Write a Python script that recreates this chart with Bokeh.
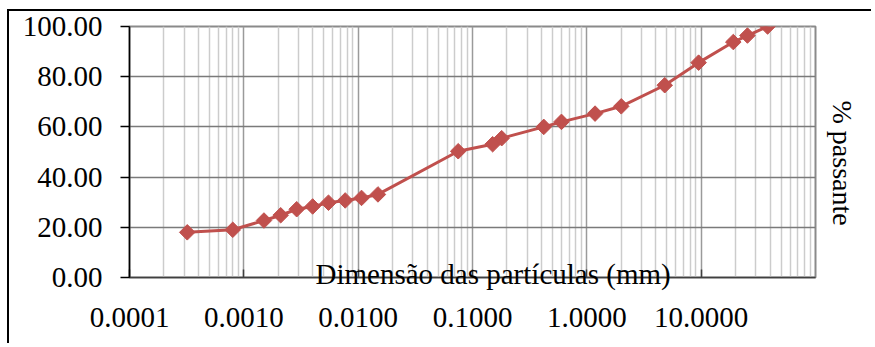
import math
from bokeh.plotting import figure
from bokeh.models import Range1d, FixedTicker, Title, ColumnDataSource
from bokeh.embed import file_html
from bokeh.resources import INLINE

# ---- data ----
particle_size_mm = [0.00032, 0.0008, 0.0015, 0.0021, 0.0029, 0.0040, 0.0055,
                    0.0077, 0.0107, 0.0149, 0.075, 0.15, 0.18, 0.42, 0.60,
                    1.18, 2.0, 4.8, 9.5, 19.1, 25.4, 38.1]
percent_passing = [18.0, 19.0, 22.7, 24.8, 27.2, 28.3, 29.8, 30.7, 31.7, 33.1,
                   50.3, 53.1, 55.5, 60.0, 62.0, 65.3, 68.2, 76.6, 85.6, 93.8,
                   96.4, 100.0]

x_ticks = [0.0001, 0.001, 0.01, 0.1, 1.0, 10.0]
x_tick_labels = ["0.0001", "0.0010", "0.0100", "0.1000", "1.0000", "10.0000"]
x_minor = [m * d for d in [0.0001, 0.001, 0.01, 0.1, 1.0, 10.0] for m in range(2, 10)]
y_ticks = [0, 20, 40, 60, 80, 100]
y_tick_labels = ["0.00", "20.00", "40.00", "60.00", "80.00", "100.00"]

x_title = "Dimensão das partículas (mm)"
y_title = "% passante"

RED = "#C0504D"
FONT = "Liberation Serif"

p = figure(width=864, height=334, x_axis_type="log",
           x_range=Range1d(0.0001, 100), y_range=Range1d(0, 100),
           output_backend="svg", toolbar_location=None,
           min_border_left=120, min_border_right=58,
           min_border_top=15, min_border_bottom=68,
           styles={"border-top": "2px solid black", "border-left": "2px solid black",
                   "margin-left": "7px", "margin-top": "9px"})

p.outline_line_color = "#8a8a8a"
p.outline_line_width = 2

# x axis (ticks + labels)
xa = p.xaxis[0]
xa.ticker = FixedTicker(ticks=x_ticks, minor_ticks=x_minor)
xa.major_label_overrides = dict(zip(x_ticks, x_tick_labels))
xa.major_label_text_font = FONT
xa.major_label_text_font_size = "29px"
xa.major_label_text_color = "black"
xa.major_label_standoff = 26
xa.major_tick_in = 8
xa.major_tick_out = 0
xa.major_tick_line_color = "#404040"
xa.major_tick_line_width = 1.5
xa.minor_tick_line_color = None
xa.axis_line_color = "#404040"
xa.axis_line_width = 1.5

# y axis
ya = p.yaxis[0]
ya.ticker = FixedTicker(ticks=y_ticks)
ya.major_label_overrides = dict(zip(y_ticks, y_tick_labels))
ya.major_label_text_font = FONT
ya.major_label_text_font_size = "29px"
ya.major_label_text_color = "black"
ya.major_label_standoff = 18
ya.major_tick_in = 0
ya.major_tick_out = 9
ya.major_tick_line_color = "black"
ya.major_tick_line_width = 1.5
ya.minor_tick_line_color = None
ya.axis_line_color = "black"
ya.axis_line_width = 1.5

# axis titles as Title annotations
p.add_layout(Title(text=x_title, align="left", offset=186, vertical_align="top",
                   standoff=-144, text_font=FONT, text_font_size="29px",
                   text_font_style="normal", text_color="black"), "below")
p.add_layout(Title(text=y_title, align="left", offset=74, vertical_align="bottom",
                   standoff=23, text_font=FONT, text_font_size="28px",
                   text_font_style="normal", text_color="black"), "right")

# grids
p.xgrid.grid_line_color = "#9a9a9a"
p.xgrid.grid_line_width = 1.5
p.xgrid.minor_grid_line_color = "#cccccc"
p.xgrid.minor_grid_line_width = 1.5
p.ygrid.grid_line_color = "#7a7a7a"
p.ygrid.grid_line_width = 1.5

src = ColumnDataSource(dict(x=particle_size_mm, y=percent_passing))
p.line("x", "y", source=src, line_color=RED, line_width=3)
p.scatter("x", "y", source=src, marker="square", angle=math.pi / 4, size=11,
          fill_color=RED, line_color=RED)

open("out.html", "w").write(file_html(p, INLINE))
